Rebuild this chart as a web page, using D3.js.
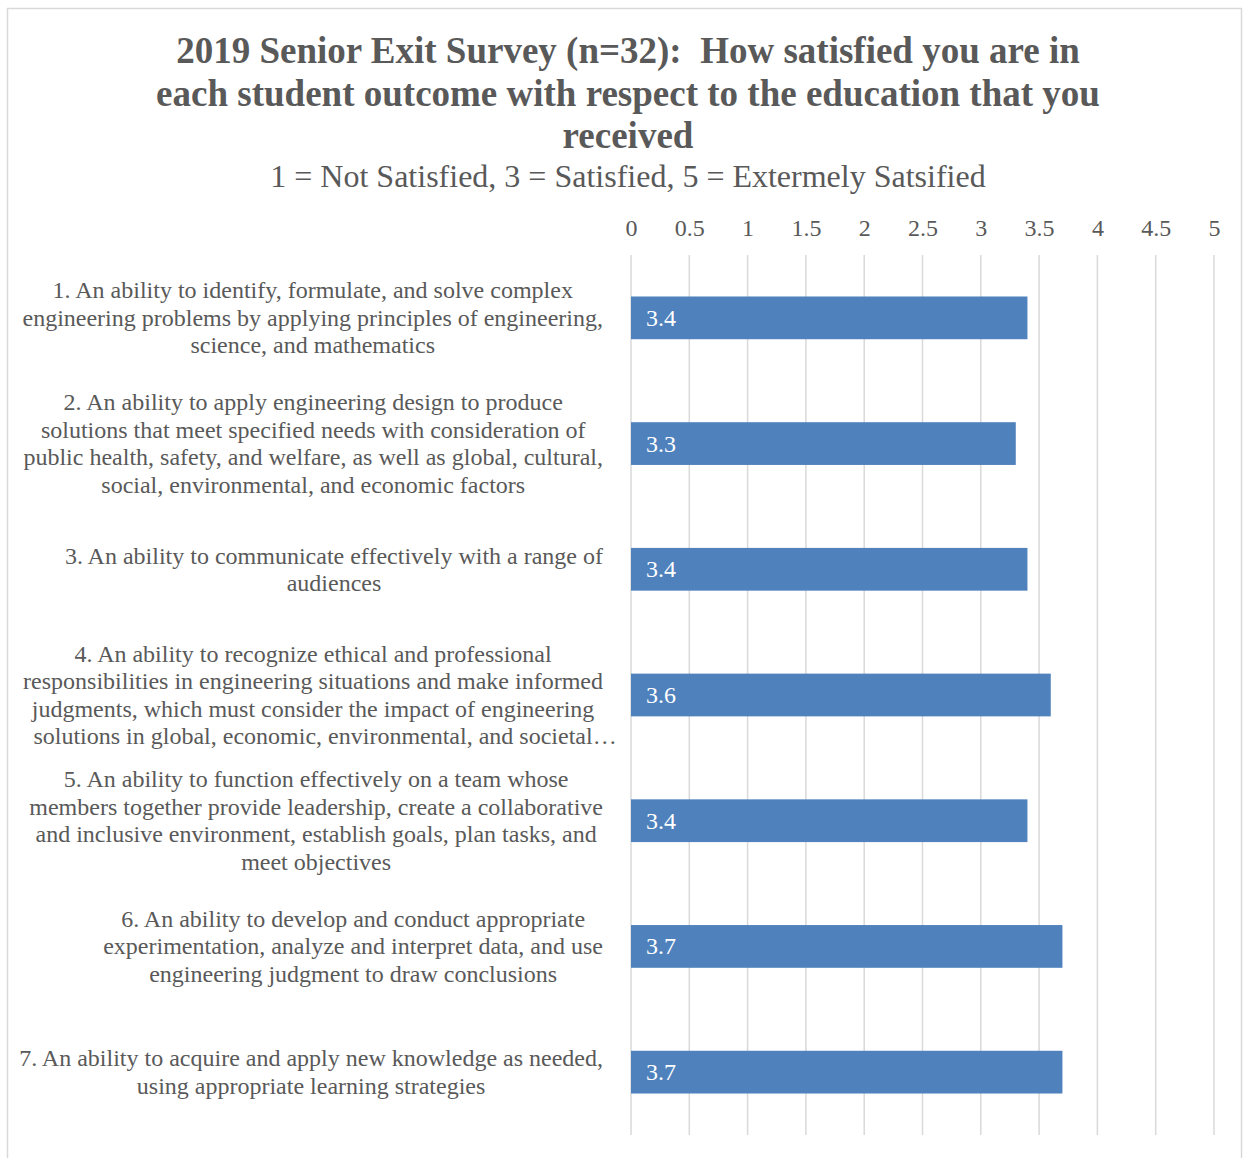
<!DOCTYPE html>
<html><head><meta charset="utf-8">
<script src="https://cdn.jsdelivr.net/npm/d3@7"></script>
<style>body{margin:0;background:#fff} text{white-space:pre}</style>
</head><body>
<script>
const titleLines = ["2019 Senior Exit Survey (n=32):  How satisfied you are in",
  "each student outcome with respect to the education that you",
  "received"];
const subtitle = "1 = Not Satisfied, 3 = Satisfied, 5 = Extermely Satsified";
const categories = [
  ["1. An ability to identify, formulate, and solve complex","engineering problems by applying principles of engineering,","science, and mathematics"],
  ["2. An ability to apply engineering design to produce","solutions that meet specified needs with consideration of","public health, safety, and welfare, as well as global, cultural,","social, environmental, and economic factors"],
  ["3. An ability to communicate effectively with a range of","audiences"],
  ["4. An ability to recognize ethical and professional","responsibilities in engineering situations and make informed","judgments, which must consider the impact of engineering","solutions in global, economic, environmental, and societal…"],
  ["5. An ability to function effectively on a team whose","members together provide leadership, create a collaborative","and inclusive environment, establish goals, plan tasks, and","meet objectives"],
  ["6. An ability to develop and conduct appropriate","experimentation, analyze and interpret data, and use","engineering judgment to draw conclusions"],
  ["7. An ability to acquire and apply new knowledge as needed,","using appropriate learning strategies"]
];
const values = [3.4, 3.3, 3.4, 3.6, 3.4, 3.7, 3.7];
const ticks = [0, 0.5, 1, 1.5, 2, 2.5, 3, 3.5, 4, 4.5, 5];

const W = 1244, H = 1158;
const font = "'Liberation Serif','Times New Roman',serif";
const grey = "#595959";
const svg = d3.select("body").append("svg").attr("width", W).attr("height", H)
  .style("font-family", font);

svg.append("rect").attr("x", 7.5).attr("y", 8.5).attr("width", 1234).attr("height", 1170)
  .attr("fill", "#fff").attr("stroke", "#d9d9d9").attr("stroke-width", 1.5);

// Title
svg.append("g").selectAll("text").data(titleLines).join("text")
  .attr("x", 628).attr("y", (d, i) => 63 + i * 42.5)
  .attr("text-anchor", "middle").attr("font-size", 37).attr("font-weight", "bold")
  .attr("fill", grey).text(d => d);
svg.append("text").attr("x", 628).attr("y", 187).attr("text-anchor", "middle")
  .attr("font-size", 32).attr("fill", grey).text(subtitle);

const x = d3.scaleLinear().domain([0, 5]).range([631, 1214]);
const y = d3.scaleBand().domain(d3.range(categories.length)).range([255, 1135]).paddingInner(0.66).paddingOuter(0.33);

// gridlines
svg.append("g").selectAll("line").data(ticks).join("line")
  .attr("x1", d => x(d)).attr("x2", d => x(d)).attr("y1", 255).attr("y2", 1135)
  .attr("stroke", "#d9d9d9").attr("stroke-width", 1.5);

// axis labels
const ax = svg.append("g").attr("transform", "translate(0,236)")
  .call(d3.axisTop(x).tickValues(ticks).tickSize(0).tickPadding(0).tickFormat(d3.format("")));
ax.select(".domain").remove();
ax.selectAll("text").attr("font-size", 24).attr("fill", grey).attr("font-family", font)
  .attr("dy", 0);

// bars
svg.append("g").selectAll("rect").data(values).join("rect")
  .attr("x", x(0)).attr("y", (d, i) => y(i))
  .attr("width", d => x(d) - x(0)).attr("height", y.bandwidth())
  .attr("fill", "#4F81BD");
svg.append("g").selectAll("text").data(values).join("text")
  .attr("x", x(0) + 15).attr("y", (d, i) => y(i) + y.bandwidth() / 2 + 8)
  .attr("font-size", 24).attr("fill", "#fff").text(d => d3.format(".1f")(d));

// category labels
const lh = 27.5, right = 603, fs = 24;
categories.forEach((lines, i) => {
  const cy = y(i) + y.bandwidth() / 2;
  const g = svg.append("g");
  const ts = lines.map((l, j) => g.append("text")
    .attr("y", cy + (j - (lines.length - 1) / 2) * lh + 8)
    .attr("font-size", fs).attr("fill", grey).text(l));
  const widths = ts.map((t, j) => {
    const full = t.node().getComputedTextLength();
    if (lines[j].endsWith("…")) {
      const tmp = g.append("text").attr("font-size", fs).text(lines[j].slice(0, -1));
      const w = tmp.node().getComputedTextLength(); tmp.remove(); return w;
    }
    return full;
  });
  const maxW = d3.max(widths);
  const c = right - maxW / 2;
  ts.forEach((t, j) => t.attr("x", c - widths[j] / 2));
});
</script>
</body></html>
